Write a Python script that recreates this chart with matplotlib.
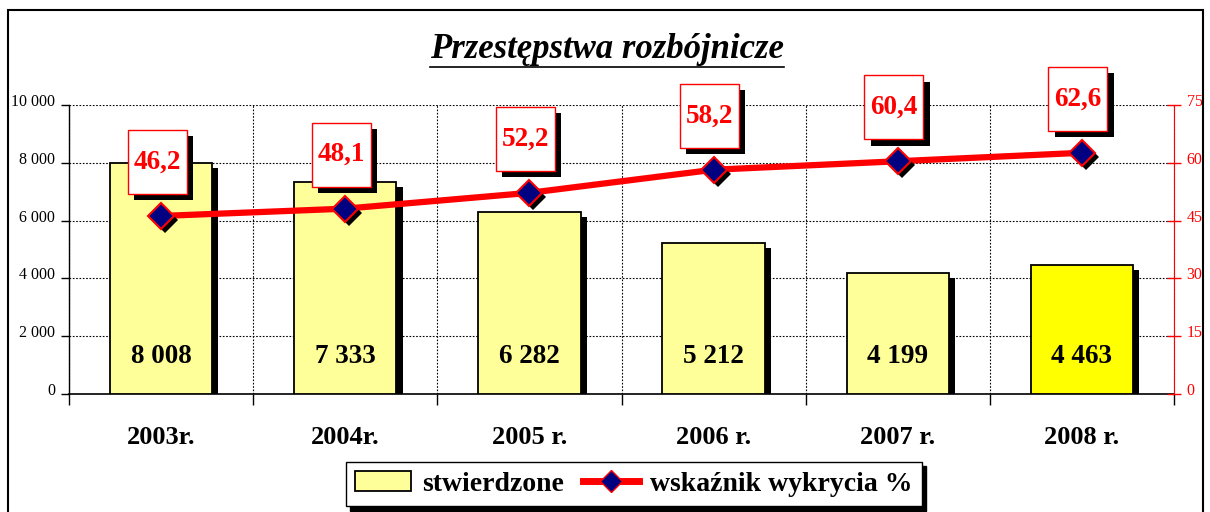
import matplotlib
matplotlib.use("Agg")
import matplotlib.pyplot as plt
import matplotlib.patheffects as pe
from matplotlib.patches import Rectangle, Patch
from matplotlib.lines import Line2D
from matplotlib.transforms import ScaledTranslation

plt.rcParams['font.family'] = ['Liberation Serif', 'DejaVu Serif']

# dane
lata = ['2003r.', '2004r.', '2005 r.', '2006 r.', '2007 r.', '2008 r.']
stwierdzone = [8008, 7333, 6282, 5212, 4199, 4463]
wskaznik = [46.2, 48.1, 52.2, 58.2, 60.4, 62.6]
kolory = ['#FFFF99'] * 5 + ['#FFFF00']

W, H = 1210, 512
fig = plt.figure(figsize=(W / 100, H / 100), dpi=100)
# obszar wykresu w pikselach
x0, x1, ytop, ybot = 69, 1174, 105, 394
ax = fig.add_axes([x0 / W, 1 - ybot / H, (x1 - x0) / W, (ybot - ytop) / H])
ax2 = ax.twinx()

n = len(lata)
x = list(range(n))
ax.set_xlim(-0.5, n - 0.5)
ax.set_ylim(0, 10000)
ax2.set_ylim(0, 75)

px_x = (n) / (x1 - x0)          # jednostki x na piksel
px_y2 = 75 / (ybot - ytop)      # jednostki prawej osi na piksel

# slupki z cieniem
bar_shadow = [pe.SimplePatchShadow(offset=(4.5, -3.6), shadow_rgbFace='black', alpha=1), pe.Normal()]
bars = ax.bar(x, stwierdzone, width=0.555, color=kolory, edgecolor='black', linewidth=1.3, zorder=3)
for b in bars:
    b.set_path_effects(bar_shadow)
for i, v in enumerate(stwierdzone):
    ax.text(i, 1300, f"{v:,}".replace(',', ' '), ha='center', va='center',
            fontsize=19.5, fontweight='bold', zorder=5)

# siatka
ax.set_yticks(range(0, 10001, 2000))
ax.set_yticklabels([f"{v:,}".replace(',', ' ') for v in range(0, 10001, 2000)])
ax.set_xticks(x)
ax.set_xticklabels(lata, fontsize=19, fontweight='bold')
ax.set_xticks([i - 0.5 for i in range(n + 1)], minor=True)
ax.tick_params(axis='x', which='major', length=0, pad=23)
ax.tick_params(axis='x', which='minor', length=8, width=1, direction='out')
ax.tick_params(axis='y', length=6, width=1, direction='out', labelsize=11.5, pad=4)
ax.grid(True, axis='y', which='major', linestyle=(0, (1.5, 1.5)), color='black', linewidth=0.8)
ax.grid(True, axis='x', which='minor', linestyle=(0, (1.5, 1.5)), color='black', linewidth=0.8)
ax.set_axisbelow(True)
for s in ['top', 'right']:
    ax.spines[s].set_visible(False)
ax.spines['left'].set_linewidth(1)
ax.spines['bottom'].set_linewidth(1.2)

# prawa os
ax2.set_yticks(range(0, 76, 15))
ax2.tick_params(axis='y', colors='red', length=10, width=1, direction='inout', labelsize=11.5, pad=4)
for s in ['top', 'left', 'bottom']:
    ax2.spines[s].set_visible(False)
ax2.spines['right'].set_color('red')
ax2.spines['right'].set_linestyle((0, (1, 0.5)))

up = ScaledTranslation(0, 5 / 100, fig.dpi_scale_trans)
for lab in ax.get_yticklabels() + ax2.get_yticklabels():
    lab.set_transform(lab.get_transform() + up)

# linia wskaznika
ax2.plot(x, wskaznik, color='red', linewidth=4.5, zorder=4)
cien = ax2.transData + ScaledTranslation(4 / 100, -4 / 100, fig.dpi_scale_trans)
ax2.plot(x, wskaznik, linestyle='none', marker='D', markersize=13, color='black',
         markeredgewidth=0, transform=cien, zorder=4.5)
ax2.plot(x, wskaznik, linestyle='none', marker='D', markersize=13,
         markerfacecolor='#000080', markeredgecolor='red', markeredgewidth=1.5, zorder=5)

# etykiety w ramkach
bw, bh = 59 * px_x, 64 * px_y2
box_shadow = [pe.SimplePatchShadow(offset=(4.5, -4.5), shadow_rgbFace='black', alpha=1), pe.Normal()]
for i, v in enumerate(wskaznik):
    cx = i - 4 * px_x
    cy = v + 54 * px_y2
    r = Rectangle((cx - bw / 2, cy - bh / 2), bw, bh, facecolor='white', edgecolor='red',
                  linewidth=1, clip_on=False, zorder=6, path_effects=box_shadow)
    ax2.add_patch(r)
    ax2.text(cx, cy, f"{v:.1f}".replace('.', ','), color='red', fontsize=19.5, fontweight='bold',
             ha='center', va='center', zorder=7, clip_on=False)

# tytul
t = fig.text(607 / W, 1 - 50 / H, 'Przestępstwa rozbójnicze', ha='center', va='center',
             fontsize=25, fontweight='bold', fontstyle='italic')
fig.canvas.draw()
bb = t.get_window_extent()
fig.add_artist(Line2D([bb.x0 / W, bb.x1 / W], [1 - 67 / H, 1 - 67 / H], color='black', linewidth=1.2))

# legenda
handles = [Patch(facecolor='#FFFF99', edgecolor='black', linewidth=1.3),
           Line2D([], [], color='red', linewidth=5, marker='D', markersize=11,
                  markerfacecolor='#000080', markeredgecolor='red')]
leg = fig.legend(handles, ['stwierdzone', 'wskaźnik wykrycia %'], loc='center',
                 bbox_to_anchor=(634 / W, 1 - 484 / H), ncol=2,
                 prop={'weight': 'bold', 'size': 20}, frameon=True, fancybox=False,
                 edgecolor='black', shadow={'color': 'black', 'alpha': 1, 'ox': 3, 'oy': -3},
                 handlelength=2.0, handleheight=0.7, columnspacing=0.7, borderpad=0.35,
                 handletextpad=0.4, borderaxespad=0)
leg.get_frame().set_linewidth(1)

# ramka zewnetrzna
fig.add_artist(Rectangle((8 / W, -0.1), (1203 - 8) / W, 1 - 10 / H + 0.1, transform=fig.transFigure,
                         fill=False, edgecolor='black', linewidth=1.5))

fig.savefig('out.png', dpi=100)
